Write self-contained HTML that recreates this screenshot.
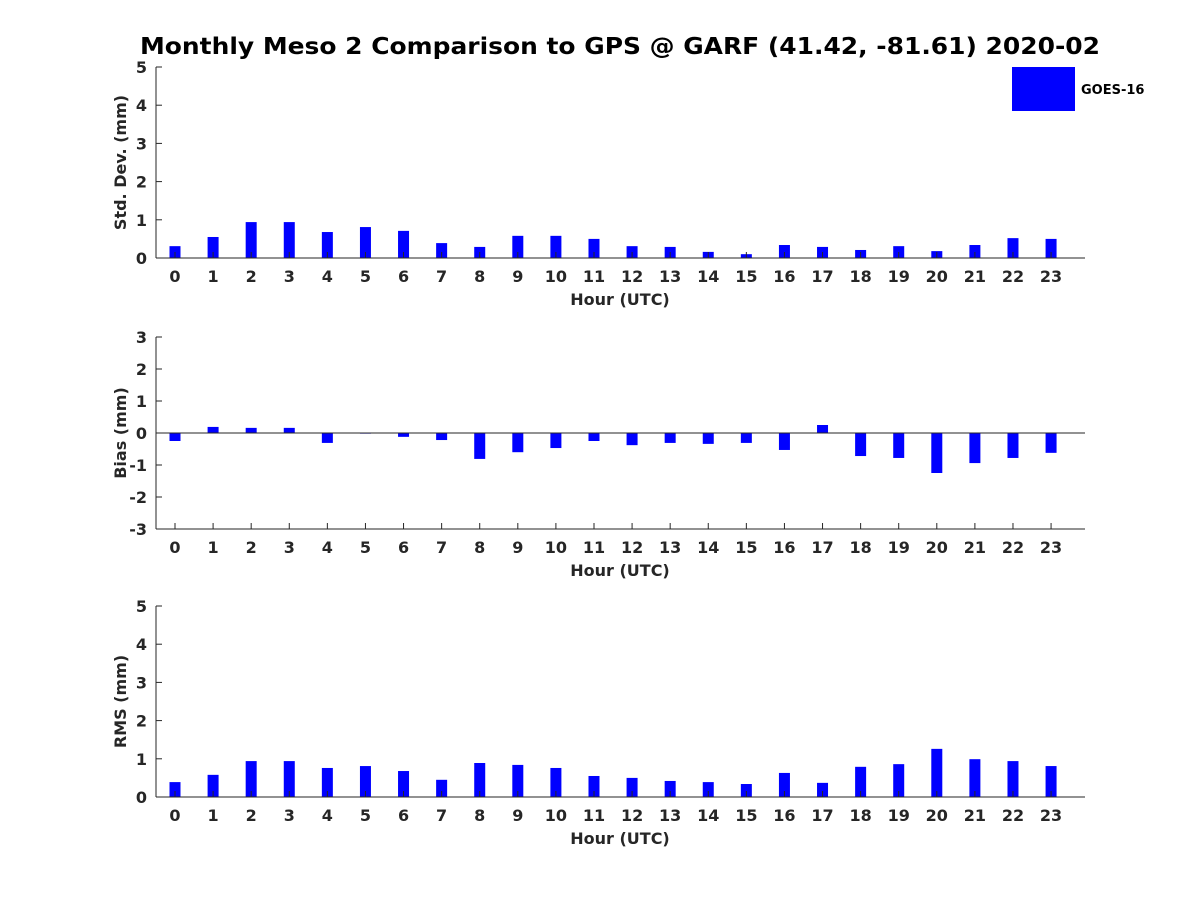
<!DOCTYPE html>
<html><head><meta charset="utf-8"><style>
body{margin:0;background:#fff}
svg text{font-family:"DejaVu Sans","Liberation Sans",sans-serif;font-weight:bold;fill:#262626}
</style></head><body>
<svg id="c" width="1200" height="900" viewBox="0 0 1200 900" xmlns="http://www.w3.org/2000/svg">
<rect width="1200" height="900" fill="#fff"/>
<text x="620" y="54" text-anchor="middle" font-size="23" textLength="960" lengthAdjust="spacingAndGlyphs" style="fill:#000">Monthly Meso 2 Comparison to GPS @ GARF (41.42, -81.61) 2020-02</text>
<rect x="1012" y="67" width="63" height="44" fill="#0000ff"/>
<text x="1081" y="94" font-size="13" style="fill:#000">GOES-16</text>
</svg>
<script>
const hours=[0,1,2,3,4,5,6,7,8,9,10,11,12,13,14,15,16,17,18,19,20,21,22,23];
const stdDev=[0.31,0.55,0.94,0.94,0.68,0.81,0.71,0.39,0.29,0.58,0.58,0.5,0.31,0.29,0.16,0.1,0.34,0.29,0.21,0.31,0.18,0.34,0.52,0.5];
const bias=[-0.25,0.19,0.16,0.16,-0.31,-0.02,-0.12,-0.22,-0.81,-0.6,-0.47,-0.25,-0.38,-0.31,-0.34,-0.31,-0.53,0.25,-0.72,-0.78,-1.25,-0.94,-0.78,-0.62];
const rms=[0.39,0.58,0.94,0.94,0.76,0.81,0.68,0.45,0.89,0.84,0.76,0.55,0.5,0.42,0.39,0.34,0.63,0.37,0.79,0.86,1.26,0.99,0.94,0.81];
const stdTicks=[0,1,2,3,4,5];
const biasTicks=[-3,-2,-1,0,1,2,3];
const rmsTicks=[0,1,2,3,4,5];
const svg=document.getElementById('c');
const NS='http://www.w3.org/2000/svg';
function mk(t,a){const e=document.createElementNS(NS,t);for(const k in a)e.setAttribute(k,a[k]);svg.appendChild(e);return e;}
const L=156,R=1085;
const xs=h=>175+h*38.09;
function panel(name,top,bot,ymin,ymax,ticks,vals,ylabel){
  const ys=v=>bot-(v-ymin)/(ymax-ymin)*(bot-top);
  const z=ys(Math.max(0,ymin));
  vals.forEach((v,i)=>{
    const y0=ys(Math.max(v,0)),y1=ys(Math.min(v,0));
    const b=mk('rect',{x:xs(hours[i])-5.5,y:y0,width:11,height:Math.max(y1-y0,0.5),fill:'#0000ff'});
    
    
  });
  const ax=mk('line',{x1:L,y1:top,x2:L,y2:bot,stroke:'#262626'});
  
  
  const bx=mk('line',{x1:L,y1:z,x2:R,y2:z,stroke:'#262626'});
  
  
  if(ymin<0){const bb=mk('line',{x1:L,y1:bot,x2:R,y2:bot,stroke:'#262626'});
    
    }
  ticks.forEach(t=>{
    const y=ys(t);
    mk('line',{x1:L,y1:y,x2:L+6,y2:y,stroke:'#262626'});
    const tx=mk('text',{x:L-9,y:y+6,'text-anchor':'end','font-size':16});
    tx.textContent=t;
    
    
  });
  hours.forEach(h=>{
    mk('line',{x1:xs(h),y1:bot,x2:xs(h),y2:bot-6,stroke:'#262626'});
    const tx=mk('text',{x:xs(h),y:bot+24,'text-anchor':'middle','font-size':16});
    tx.textContent=h;
    
    
  });
  const xl=mk('text',{x:620,y:bot+47,'text-anchor':'middle','font-size':16});
  xl.textContent='Hour (UTC)';
  
  
  const cy=(top+bot)/2;
  const yl=mk('text',{x:126,y:cy,'text-anchor':'middle','font-size':16,transform:'rotate(-90 126 '+cy+')'});
  yl.textContent=ylabel;
  
  
}
panel('std-dev',67,258,0,5,stdTicks,stdDev,'Std. Dev. (mm)');
panel('bias',337,529,-3,3,biasTicks,bias,'Bias (mm)');
panel('rms',606,797,0,5,rmsTicks,rms,'RMS (mm)');
</script>
</body></html>
